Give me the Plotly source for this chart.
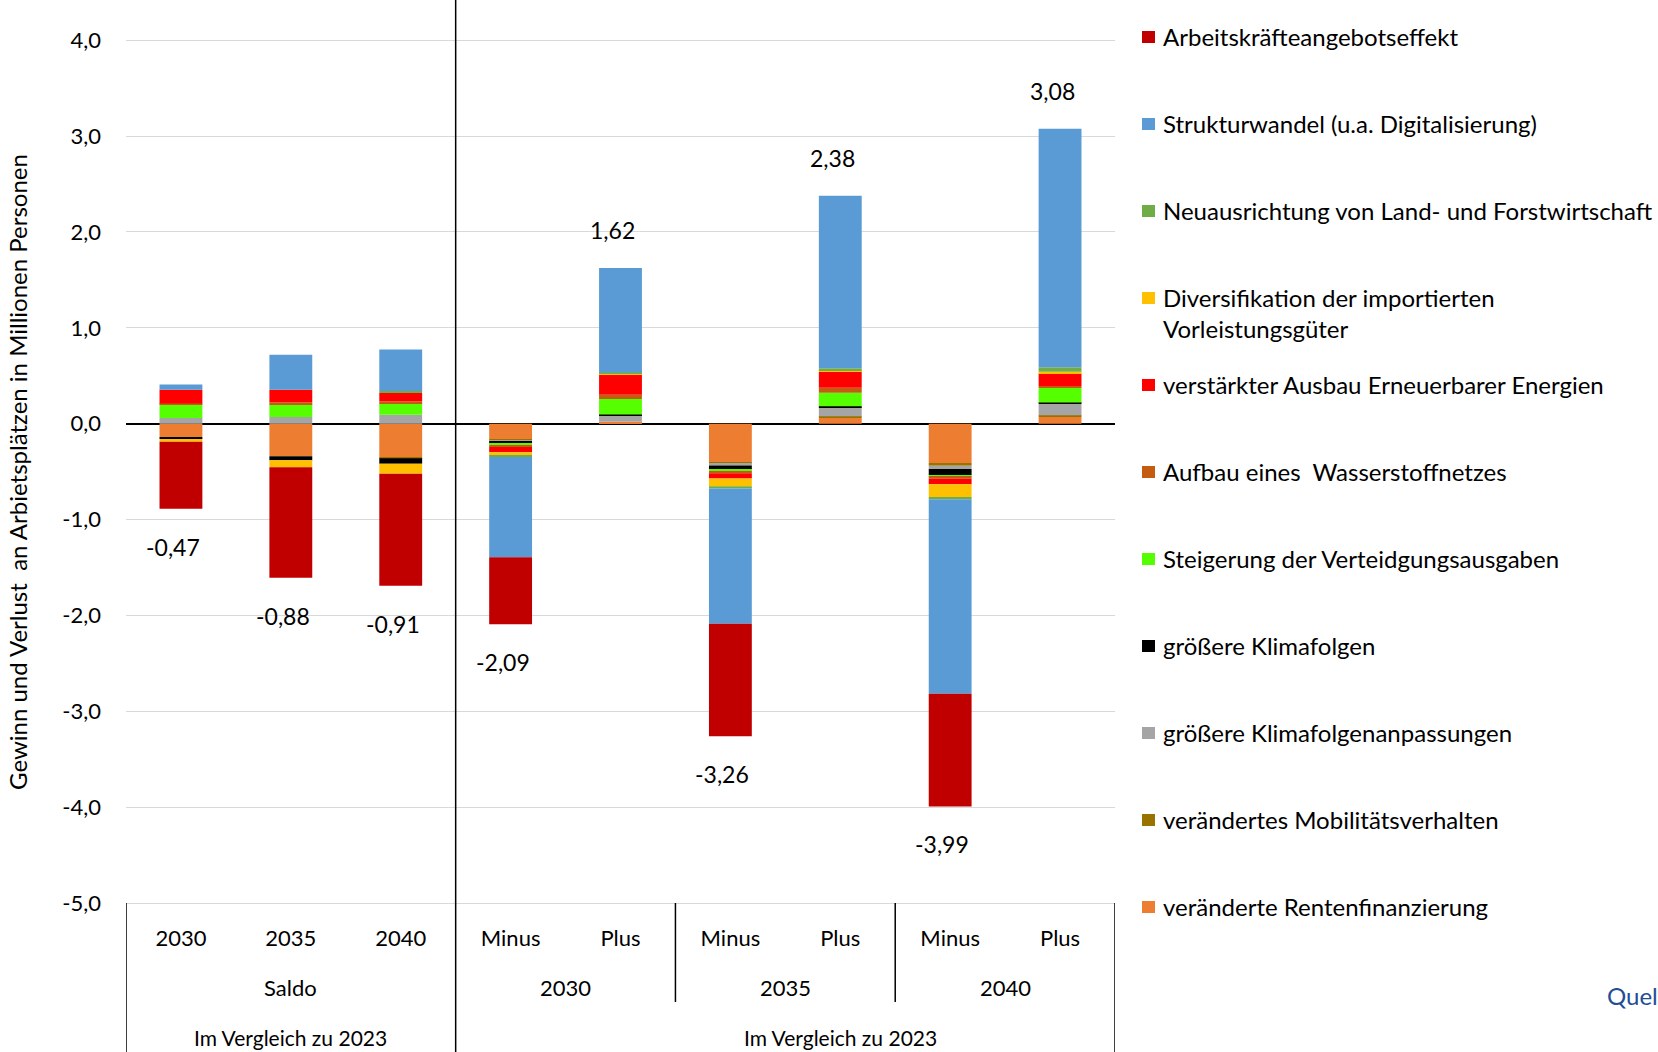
import plotly.graph_objects as go

# categories: 3 saldo bars, then Minus/Plus pairs for 2030, 2035, 2040
categories = ["S2030", "S2035", "S2040", "M2030", "P2030", "M2035", "P2035", "M2040", "P2040"]
row1_labels = ["2030", "2035", "2040", "Minus", "Plus", "Minus", "Plus", "Minus", "Plus"]
total_labels = ["-0,47", "-0,88", "-0,91", "-2,09", "1,62", "-3,26", "2,38", "-3,99", "3,08"]

# series values (Mio. Personen), stacking order bottom -> top
renten = [-0.14, -0.34, -0.35, -0.163, 0.02, -0.40, 0.06, -0.41, 0.07]
mobilitaet = [0.0, 0.0, -0.01, -0.01, 0.0, -0.017, 0.017, -0.028, 0.017]
klimaanpassung = [0.06, 0.07, 0.094, -0.014, 0.07, -0.02, 0.094, -0.035, 0.12]
klimafolgen = [-0.02, -0.042, -0.059, -0.02, 0.005, -0.042, 0.01, -0.0625, 0.014]
verteidigung = [0.14, 0.135, 0.12, -0.017, 0.163, -0.017, 0.142, -0.02, 0.153]
wasserstoff = [0.01, 0.02, 0.02, -0.02, 0.045, -0.02, 0.052, -0.02, 0.02]
erneuerbare = [0.145, 0.128, 0.087, -0.055, 0.21, -0.056, 0.167, -0.056, 0.132]
diversifikation = [-0.028, -0.073, -0.104, -0.035, 0.01, -0.08, 0.017, -0.132, 0.017]
landforst = [0.0, 0.0, 0.02, -0.014, 0.01, -0.024, 0.02, -0.024, 0.045]
strukturwandel = [0.055, 0.366, 0.434, -1.045, 1.09, -1.41, 1.80, -2.03, 2.49]
arbeitskraefte = [-0.70, -1.153, -1.167, -0.70, 0.0, -1.175, 0.0, -1.175, 0.0]

series = [
    ("veränderte Rentenfinanzierung", renten, "#ED7D31"),
    ("verändertes Mobilitätsverhalten", mobilitaet, "#997300"),
    ("größere Klimafolgenanpassungen", klimaanpassung, "#A5A5A5"),
    ("größere Klimafolgen", klimafolgen, "#000000"),
    ("Steigerung der Verteidgungsausgaben", verteidigung, "#55FF00"),
    ("Aufbau eines  Wasserstoffnetzes", wasserstoff, "#C55A11"),
    ("verstärkter Ausbau Erneuerbarer Energien", erneuerbare, "#FF0000"),
    ("Diversifikation der importierten<br>Vorleistungsgüter", diversifikation, "#FFC000"),
    ("Neuausrichtung von Land- und Forstwirtschaft", landforst, "#70AD47"),
    ("Strukturwandel (u.a. Digitalisierung)", strukturwandel, "#5B9BD5"),
    ("Arbeitskräfteangebotseffekt", arbeitskraefte, "#C00000"),
]

y_ticks = [4, 3, 2, 1, 0, -1, -2, -3, -4, -5]
y_ticktext = ["4,0", "3,0", "2,0", "1,0", "0,0", "-1,0", "-2,0", "-3,0", "-4,0", "-5,0"]

FONT = "Lato, sans-serif"

# plot area in pixels
L, R, T, B = 126, 1115, 0, 903


def px_x(x):
    return (x - L) / (R - L)


def px_y(y):
    return (B - y) / (B - T)


fig = go.Figure()
for name, vals, color in series:
    fig.add_trace(go.Bar(
        x=categories, y=vals, name=name, marker_color=color,
        marker_line_width=0, width=0.39, showlegend=False,
    ))

# total labels above / below the stacks
for i, cat in enumerate(categories):
    pos = sum(v[i] for _, v, _ in series if v[i] > 0)
    neg = sum(v[i] for _, v, _ in series if v[i] < 0)
    below = total_labels[i].startswith("-")
    fig.add_annotation(
        x=cat, y=neg if below else pos, text=total_labels[i], showarrow=False,
        yanchor="middle", yshift=-38 if below else 38, xshift=-8,
        font=dict(size=23, color="black"),
    )

# second and third label rows
row2 = [("S2035", "Saldo"), (3.5, "2030"), (5.5, "2035"), (7.5, "2040")]
for x, t in row2:
    fig.add_annotation(x=x, y=px_y(988), yref="paper", text=t, showarrow=False,
                       yanchor="middle", font=dict(size=22, color="black"))
for x, t in [("S2035", "Im Vergleich zu 2023"), ("P2035", "Im Vergleich zu 2023")]:
    fig.add_annotation(x=x, y=px_y(1037), yref="paper", text=t, showarrow=False,
                       yanchor="middle", font=dict(size=21, color="black"))

# table lines
line = dict(color="black", width=1.5)
fig.add_shape(type="line", x0=-0.5, x1=-0.5, y0=0, y1=px_y(1052), xref="x", yref="paper", line=line)
fig.add_shape(type="line", x0=2.5, x1=2.5, y0=1, y1=px_y(1052), xref="x", yref="paper", line=line)
fig.add_shape(type="line", x0=4.5, x1=4.5, y0=0, y1=px_y(1002), xref="x", yref="paper", line=line)
fig.add_shape(type="line", x0=6.5, x1=6.5, y0=0, y1=px_y(1002), xref="x", yref="paper", line=line)
fig.add_shape(type="line", x0=8.5, x1=8.5, y0=0, y1=px_y(1052), xref="x", yref="paper", line=line)

# legend drawn by hand (top item = last trace)
for i, (name, _, color) in enumerate(reversed(series)):
    yc = 37 + 87 * i
    fig.add_shape(type="rect", xref="paper", yref="paper",
                  x0=px_x(1142), x1=px_x(1155), y0=px_y(yc - 6), y1=px_y(yc + 6),
                  fillcolor=color, line_width=0)
    fig.add_annotation(x=px_x(1161), y=px_y(yc - 17), xref="paper", yref="paper",
                       text=name, showarrow=False, xanchor="left", yanchor="top",
                       align="left", font=dict(size=24, color="black"))

# y axis title
fig.add_annotation(x=px_x(18), y=px_y(472), xref="paper", yref="paper",
                   text="Gewinn und Verlust  an Arbietsplätzen in Millionen Personen",
                   textangle=-90, showarrow=False, xanchor="center", yanchor="middle",
                   font=dict(size=24, color="black"))

fig.add_annotation(x=px_x(1605), y=px_y(996), xref="paper", yref="paper",
                   text="Quel", showarrow=False, xanchor="left", yanchor="middle",
                   font=dict(size=24, color="#1F4E96"))

fig.update_layout(
    barmode="relative",
    width=1658, height=1052,
    margin=dict(l=L, r=1658 - R, t=T, b=1052 - B),
    paper_bgcolor="white", plot_bgcolor="white",
    font=dict(family=FONT, size=21, color="black"),
    showlegend=False,
    xaxis=dict(type="category", categoryorder="array", categoryarray=categories,
               range=[-0.5, 8.5], tickvals=categories, ticktext=row1_labels,
               showgrid=False, ticks="", showline=True, linecolor="#D9D9D9", linewidth=1,
               tickfont=dict(size=22), ticklabelstandoff=16),
    yaxis=dict(range=[-5, 4.42], tickvals=y_ticks, ticktext=y_ticktext,
               gridcolor="#D9D9D9", gridwidth=1, zeroline=True, zerolinecolor="black",
               zerolinewidth=1.5, showline=False, ticks="", ticklabelstandoff=24,
               tickfont=dict(size=22)),
)

fig.write_html("out.html", config={"displayModeBar": False},
               post_script="document.body.style.margin='0';")
